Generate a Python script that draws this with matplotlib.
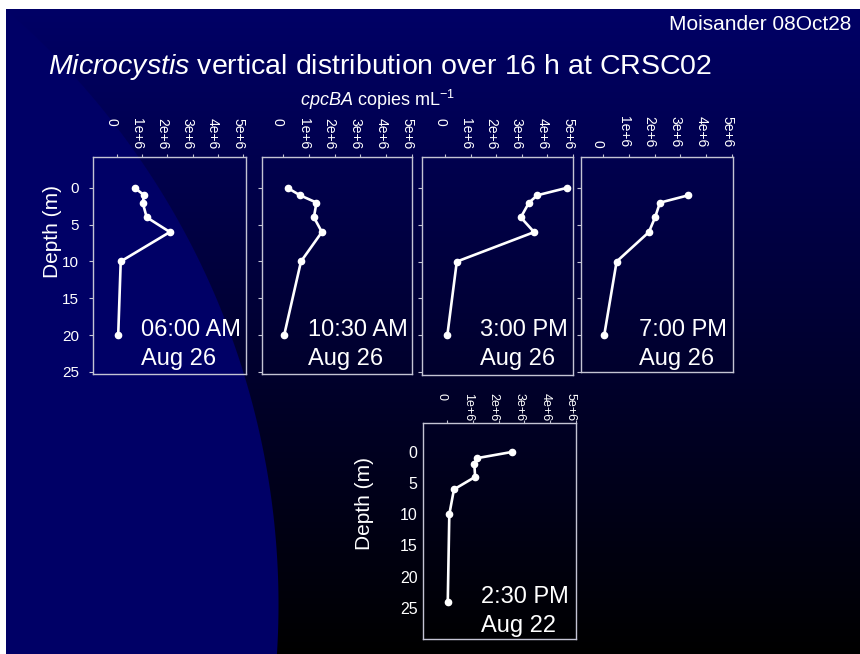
import matplotlib
matplotlib.use("Agg")
import matplotlib.pyplot as plt
import matplotlib.transforms as mtransforms
import numpy as np

plt.rcParams['font.family'] = ['Liberation Sans', 'DejaVu Sans']
plt.rcParams['mathtext.fontset'] = 'custom'
plt.rcParams['mathtext.rm'] = 'Liberation Sans'
plt.rcParams['mathtext.it'] = 'Liberation Sans:italic'

W, H = 860, 654

# depth profiles: depth (m) vs cpcBA copies per mL
depth_0600 = [0, 1, 2, 4, 6, 10, 20]
cpc_0600 = [0.71e6, 1.08e6, 1.02e6, 1.18e6, 2.1e6, 0.15e6, 0.05e6]
depth_1030 = [0, 1, 2, 4, 6, 10, 20]
cpc_1030 = [0.18e6, 0.66e6, 1.3e6, 1.2e6, 1.51e6, 0.7e6, 0.05e6]
depth_1500 = [0, 1, 2, 4, 6, 10, 20]
cpc_1500 = [4.75e6, 3.6e6, 3.28e6, 2.96e6, 3.48e6, 0.46e6, 0.09e6]
depth_1900 = [1, 2, 4, 6, 10, 20]
cpc_1900 = [3.31e6, 2.21e6, 2.02e6, 1.78e6, 0.53e6, 0.05e6]
depth_aug22 = [0, 1, 2, 4, 6, 10, 24]
cpc_aug22 = [2.51e6, 1.15e6, 1.06e6, 1.09e6, 0.27e6, 0.09e6, 0.03e6]

time_labels = ['06:00 AM', '10:30 AM', '3:00 PM', '7:00 PM', '2:30 PM']
date_labels = ['Aug 26', 'Aug 26', 'Aug 26', 'Aug 26', 'Aug 22']
x_ticks = [0, 1e6, 2e6, 3e6, 4e6, 5e6]
x_ticklabels = ['0', '1e+6', '2e+6', '3e+6', '4e+6', '5e+6']
y_ticks = [0, 5, 10, 15, 20, 25]

profiles = [(cpc_0600, depth_0600), (cpc_1030, depth_1030), (cpc_1500, depth_1500),
            (cpc_1900, depth_1900), (cpc_aug22, depth_aug22)]

# panel frames in pixels: left, top, right, bottom
boxes = [(93, 157, 246, 374), (262, 157, 412, 374), (422, 157, 573, 375),
         (581, 157, 733, 372), (423, 423, 576, 639)]
xlims = [(-0.95e6, 5.12e6), (-0.81e6, 5.0e6), (-0.9e6, 5.0e6),
         (-0.85e6, 5.04e6), (-0.93e6, 5.0e6)]
ylims = [(25.3, -4.2), (25.3, -4.2), (25.4, -4.2), (25.0, -4.2), (30.0, -4.65)]
label_xy = [(141, 330), (308, 330), (480, 330), (639, 330), (481, 597)]

FG = 'white'
SPINE = '#c4c4d4'


def fx(x):
    return x / W


def fy(y):
    return 1 - y / H


fig = plt.figure(figsize=(W / 100, H / 100), dpi=100)

# slide background: navy disc edge on the left, navy-to-black fade elsewhere
yy, xx = np.mgrid[0:H, 0:W].astype(float)
navy = np.array([0.0, 0.0, 0.40])
fade = np.clip(1 - (yy - 9) / (H - 9), 0, 1)
img = fade[..., None] * navy
dist = np.hypot(xx + 507, yy - 604) - 785
inside = np.clip(0.5 - dist, 0, 1)[..., None]
img = inside * navy + (1 - inside) * img
img[:9, :, :] = 1
img[:, :6, :] = 1
bg = fig.add_axes([0, 0, 1, 1], zorder=-1)
bg.imshow(img, aspect='auto', interpolation='nearest')
bg.axis('off')

shift_left = mtransforms.ScaledTranslation(-5 / 100, 0, fig.dpi_scale_trans)

for i, (xs, ds) in enumerate(profiles):
    l, t, r, b = boxes[i]
    ax = fig.add_axes([fx(l), fy(b), (r - l) / W, (b - t) / H])
    ax.set_facecolor('none')
    ax.plot(xs, ds, color='white', lw=1.9, marker='o', ms=4.5, mfc='white', mec='white')
    ax.set_xlim(*xlims[i])
    ax.set_ylim(*ylims[i])
    ax.set_xticks(x_ticks)
    ax.set_xticklabels(x_ticklabels)
    ax.set_yticks(y_ticks)
    for s in ax.spines.values():
        s.set_color(SPINE)
        s.set_linewidth(1.0)

    if i == 4:
        xpad, xva, xsize = 19.5, 'top', 9
    elif i == 3:
        xpad, xva, xsize = 5, 'bottom', 10
    else:
        xpad, xva, xsize = 26, 'top', 10
    ax.tick_params(axis='x', top=True, bottom=False, labeltop=True, labelbottom=False,
                   direction='out', length=2, width=0.8, color=SPINE,
                   labelcolor=FG, labelsize=xsize, pad=xpad)
    for lbl in ax.get_xticklabels():
        lbl.set_rotation(-90)
        lbl.set_va(xva)
        lbl.set_ha('center')
        lbl.set_transform(lbl.get_transform() + shift_left)

    if i == 0:
        ax.tick_params(axis='y', direction='out', length=3, width=0.8, color=SPINE,
                       labelcolor=FG, labelsize=11, pad=7)
    elif i == 4:
        ax.tick_params(axis='y', length=0, labelcolor=FG, labelsize=11.5, pad=4)
    else:
        ax.tick_params(axis='y', direction='out', length=3, width=0.8, color=SPINE,
                       labelleft=False)

    lx, ly = label_xy[i]
    fig.text(fx(lx), fy(ly), time_labels[i], color=FG, fontsize=17, ha='left', va='center')
    fig.text(fx(lx), fy(ly + 29), date_labels[i], color=FG, fontsize=17, ha='left', va='center')

fig.text(fx(52), fy(232), 'Depth (m)', color=FG, fontsize=15, rotation=90, ha='center', va='center')
fig.text(fx(365), fy(504), 'Depth (m)', color=FG, fontsize=15, rotation=90, ha='center', va='center')

fig.text(fx(48), fy(67), r'$\mathit{Microcystis}$ vertical distribution over 16 h at CRSC02',
         color=FG, fontsize=20.5, ha='left', va='center')
fig.text(fx(300), fy(100), r'$\mathit{cpcBA}$ copies mL$^{-1}$',
         color=FG, fontsize=13, ha='left', va='center')
fig.text(fx(851), fy(25), 'Moisander 08Oct28', color=FG, fontsize=15, ha='right', va='center')

fig.savefig('out.png', dpi=100)
